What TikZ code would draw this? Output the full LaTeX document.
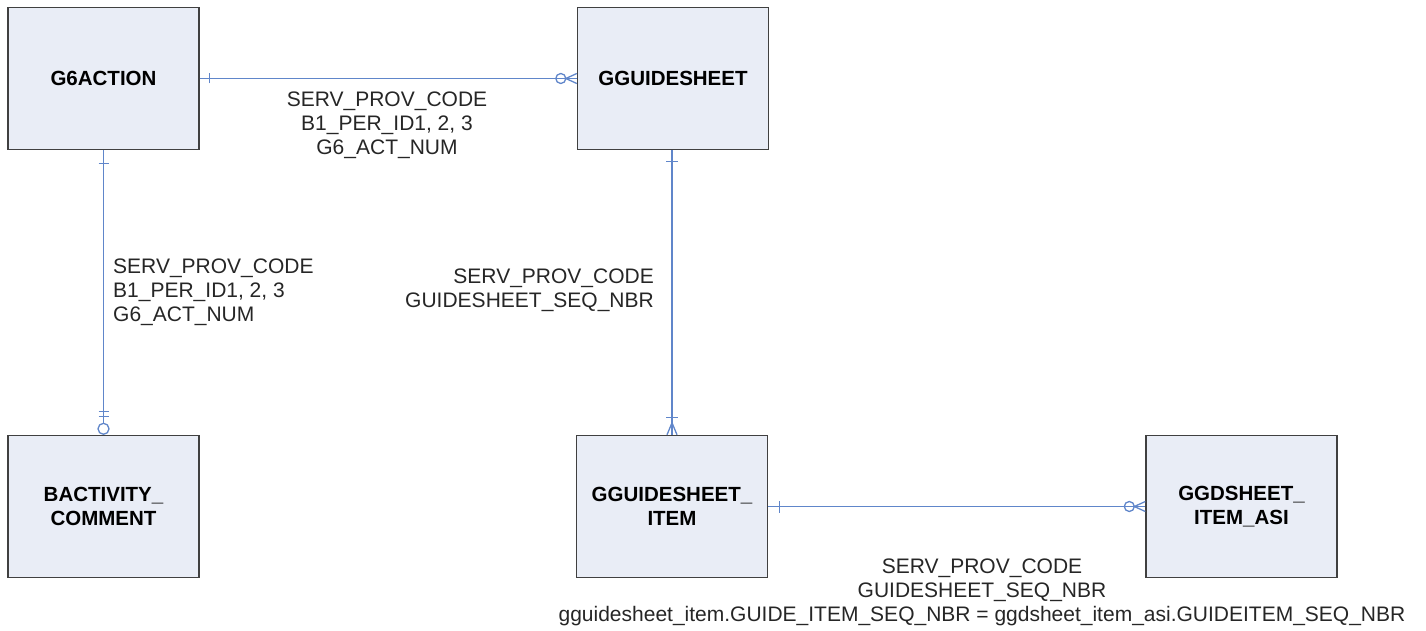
\documentclass[tikz,border=0pt]{standalone}
\usepackage{fontspec}
\setmainfont{Liberation Sans}
\definecolor{boxfill}{RGB}{233,237,246}
\definecolor{boxline}{RGB}{64,64,64}
\definecolor{relline}{RGB}{96,134,202}
\begin{document}
\begin{tikzpicture}[x=1pt,y=-1pt,
  entity/.style={draw=boxline,line width=1.4pt,fill=boxfill,minimum width=191pt,
    minimum height=142pt,inner sep=0pt,align=center,
    font=\fontsize{20.5}{24}\selectfont\bfseries},
  rel/.style={draw=relline,line width=1.3pt},
  keys/.style={inner sep=0pt,font=\fontsize{21}{24}\selectfont,text=black!85}]
\useasboundingbox (0,0) rectangle (1426,631);

% entities
\node[entity] (g6)  at (103.5,78.5)  {G6ACTION};
\node[entity] (gs)  at (673,78.5)    {GGUIDESHEET};
\node[entity] (bc)  at (103.5,506.5) {BACTIVITY\_\\COMMENT};
\node[entity] (gi)  at (672,506.5)   {GGUIDESHEET\_\\ITEM};
\node[entity] (asi) at (1241.5,506.5){GGDSHEET\_\\ITEM\_ASI};

% G6ACTION -- GGUIDESHEET (one to zero-or-many)
\draw[rel] (g6.east) -- (gs.west);
\draw[rel] ([xshift=10pt,yshift=-5pt]g6.east) -- ([xshift=10pt,yshift=5pt]g6.east);
\draw[rel] ([xshift=-16pt]gs.west) circle (5pt);
\draw[rel] ([xshift=-11pt]gs.west) -- ([yshift=-5pt]gs.west)
           ([xshift=-11pt]gs.west) -- ([yshift=5pt]gs.west);

% G6ACTION -- BACTIVITY_COMMENT (one to zero-or-one)
\draw[rel] (g6.south) -- (bc.north);
\draw[rel] ([xshift=-5pt,yshift=-13pt]g6.south) -- ([xshift=5pt,yshift=-13pt]g6.south);
\draw[rel] ([xshift=-5pt,yshift=23pt]bc.north) -- ([xshift=5pt,yshift=23pt]bc.north)
           ([xshift=-5pt,yshift=18pt]bc.north) -- ([xshift=5pt,yshift=18pt]bc.north);
\draw[rel,fill=white] ([yshift=6pt]bc.north) circle (5.5pt);

% GGUIDESHEET -- GGUIDESHEET_ITEM (one to one-or-many)
\draw[rel] (gs.south -| gi.north) -- (gi.north);
\draw[rel] ([xshift=-6pt,yshift=-11pt]gs.south -| gi.north) -- ([xshift=6pt,yshift=-11pt]gs.south -| gi.north);
\draw[rel] ([xshift=-6pt,yshift=17pt]gi.north) -- ([xshift=6pt,yshift=17pt]gi.north);
\draw[rel] ([yshift=12pt]gi.north) -- ([xshift=-5pt]gi.north)
           ([yshift=12pt]gi.north) -- ([xshift=5pt]gi.north);

% GGUIDESHEET_ITEM -- GGDSHEET_ITEM_ASI (one to zero-or-many)
\draw[rel] (gi.east) -- (asi.west);
\draw[rel] ([xshift=11pt,yshift=-6pt]gi.east) -- ([xshift=11pt,yshift=6pt]gi.east);
\draw[rel] ([xshift=-16pt]asi.west) circle (5pt);
\draw[rel] ([xshift=-11pt]asi.west) -- ([yshift=-5pt]asi.west)
           ([xshift=-11pt]asi.west) -- ([yshift=5pt]asi.west);

% key labels
\node[keys,align=center] (k1) at (387,125) {SERV\_PROV\_CODE\\B1\_PER\_ID1, 2, 3\\G6\_ACT\_NUM};
\node[keys,align=left,anchor=west] (k2) at (113,292) {SERV\_PROV\_CODE\\B1\_PER\_ID1, 2, 3\\G6\_ACT\_NUM};
\node[keys,align=right,anchor=east] (k3) at (654,290) {SERV\_PROV\_CODE\\GUIDESHEET\_SEQ\_NBR};
\node[keys,align=center] (k4) at (982,592) {SERV\_PROV\_CODE\\GUIDESHEET\_SEQ\_NBR\\gguidesheet\_item.GUIDE\_ITEM\_SEQ\_NBR = ggdsheet\_item\_asi.GUIDEITEM\_SEQ\_NBR};
\end{tikzpicture}
\end{document}
